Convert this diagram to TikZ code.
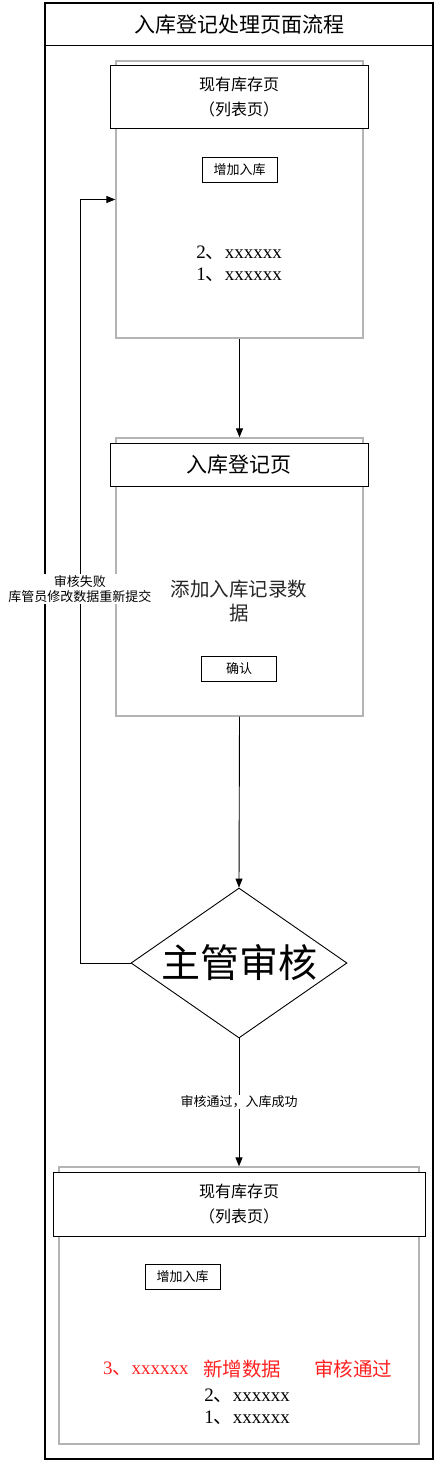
\documentclass[tikz,border=0pt]{standalone}
\usepackage{fontspec}
\setmainfont{Liberation Serif}
\newfontfamily\cjk{Noto Sans CJK SC}
\usetikzlibrary{arrows.meta,shapes.geometric}
\definecolor{framegray}{HTML}{B4B4B4}
\definecolor{redtext}{HTML}{FF2020}
\newcommand\fsz[2]{\fontsize{#1pt}{#2pt}\selectfont}
\begin{document}
\begin{tikzpicture}[x=1pt,y=-1pt,
  pagebox/.style={draw=framegray, line width=1.3pt, inner sep=0pt, minimum width=247pt},
  hdr/.style={draw=black, fill=white, line width=1pt, inner sep=0pt, minimum width=258pt, align=center},
  btn/.style={draw=black, fill=white, line width=1pt, inner sep=0pt, minimum width=75pt, minimum height=25pt, font=\cjk\fsz{13}{15}},
  arr/.style={draw=black, line width=0.9pt, -{Triangle[length=9pt,width=7pt]}},
  dia/.style={draw=black, line width=0.9pt, shape=diamond, inner sep=0pt, minimum width=216pt, minimum height=150pt},
  lbl/.style={fill=white, inner sep=1pt, align=center, font=\cjk\fsz{13}{15}}
]
\useasboundingbox (0,0) rectangle (435,1463);
% outer frame
\node[draw=black, line width=1.3pt, minimum width=388pt, minimum height=1456pt, inner sep=0pt] (frame) at (239,731) {};
\coordinate (divl) at (45,46);
\coordinate (divr) at (433,46);
\draw[line width=1pt] (divl) -- (divr);
\node[font=\cjk\fsz{21}{24}] (title) at (239,25) {入库登记处理页面流程};

% page 1
\node[pagebox, minimum height=277pt] (p1) at (239.5,199.5) {};
\node[hdr, minimum height=63pt, font=\cjk\fsz{16}{25}] (h1) at (239,97.5) {现有库存页\\（列表页）};
\node[btn] (b1) at (239.5,170) {增加入库};
\node[font=\fsz{19}{22}, align=left] (l1) at (239,264) {2{\cjk 、}xxxxxx\\1{\cjk 、}xxxxxx};

% page 2
\node[pagebox, minimum height=278pt] (p2) at (239.5,577) {};
\node[hdr, minimum height=43pt, font=\cjk\fsz{21}{24}] (h2) at (239,464.5) {入库登记页};
\node[font=\cjk\fsz{19.5}{24}, align=center, text=black!85] (t2) at (239,601) {添加入库记录数\\据};
\node[btn] (b2) at (239,668.5) {确认};

% decision
\node[dia] (d) at (239,963) {};
\node[font=\cjk\fsz{39}{42}] (dt) at (d.center) {主管审核};

% page 3
\node[pagebox, minimum width=360pt, minimum height=277pt] (p3) at (239,1305.5) {};
\node[hdr, minimum width=372pt, minimum height=64pt, font=\cjk\fsz{16}{25}] (h3) at (239,1204) {现有库存页\\（列表页）};
\node[btn] (b3) at (182.5,1276.5) {增加入库};
\node[font=\fsz{19}{22}, text=redtext, anchor=west, inner sep=0pt] (r1) at (103,1369) {3{\cjk 、}xxxxxx};
\node[font=\cjk\fsz{19.5}{22}, text=redtext, anchor=west, inner sep=0pt] (r1b) at (203,1369) {新增数据};
\node[font=\cjk\fsz{19.5}{22}, text=redtext, anchor=west, inner sep=0pt] (r2) at (314,1369) {审核通过};
\node[font=\fsz{19}{22}, align=left] (l3) at (247,1406.5) {2{\cjk 、}xxxxxx\\1{\cjk 、}xxxxxx};

% connectors
\draw[arr] (p1.south) -- (p2.north);
\draw[arr] (p2.south) -- (d.north);
\draw[arr] (d.south) -- (p3.north);
\coordinate (fb) at (80,963);
\draw[arr] (d.west) -- (fb) |- (p1.west);
\node[lbl] (okl) at (239,1102) {审核通过，入库成功};
\node[lbl] (fail) at (80,589) {审核失败\\库管员修改数据重新提交};
\end{tikzpicture}
\end{document}
